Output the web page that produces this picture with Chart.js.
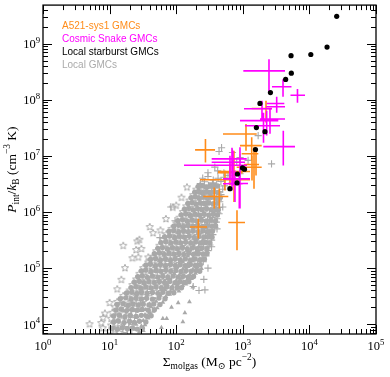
<!DOCTYPE html>
<html>
<head>
<meta charset="utf-8">
<script src="https://cdn.jsdelivr.net/npm/chart.js@4.4.1/dist/chart.umd.min.js"></script>
<style>
  html, body { margin: 0; padding: 0; background: #fff; }
  canvas { display: block; }
</style>
</head>
<body>
<canvas id="chart" width="390" height="377"></canvas>
<script>
// --- DATOS ---
// Sigma_molgas en M_sun pc^-2, P_int/k_B en cm^-3 K

// Local starburst GMCs (puntos negros)
const starburstSigma = [25700, 18400, 10500, 5300, 5350, 4400, 2600, 1810, 1600, 2150, 1550, 990, 1060, 830, 820, 640];
const starburstP     = [3.07e9, 8.7e8, 6.4e8, 6.1e8, 2.98e8, 2.3e8, 1.34e8, 8.6e7, 3.2e7, 2.7e7, 1.3e7, 6.1e6, 5.8e6, 4.75e6, 3.3e6, 2.6e6];

// Cosmic Snake GMCs (cruces magenta)
const snakeSigma   = [688, 712, 642, 907, 763, 886, 4055, 2284, 2560, 3228, 3228, 6622, 4017, 2473, 2046, 1941];
const snakeSigmaLo = [131, 341, 341, 504, 504, 600, 2032, 907, 1812, 2284, 2230, 5200, 2743, 1018, 1079, 1042];
const snakeSigmaHi = [1157, 1145, 1079, 1283, 996, 1197, 6078, 3413, 4305, 4198, 4305, 8590, 5383, 4305, 3620, 2743];
const snakeP       = [6.8e6, 8.85e6, 7.7e6, 3.9e6, 3.18e6, 3.22e6, 1.46e7, 4.24e7, 4.54e7, 8.6e7, 7.5e7, 1.2e8, 1.7e8, 3.27e8, 3.45e7, 6.9e7];
const snakePLo     = [2.42e6, 2.97e6, 3.64e6, 1.15e6, 1.5e6, 1.15e6, 6.73e6, 2.3e7, 2.49e7, 6.38e7, 5.88e7, 8.85e7, 1.13e8, 1.35e8, 1.72e7, 4.6e7];
const snakePHi     = [1.4e7, 1.24e7, 1.01e7, 1.42e7, 5.49e6, 4.47e6, 2.81e7, 6.38e7, 6.9e7, 1.13e8, 9.6e7, 1.55e8, 2.31e8, 5.28e8, 5.88e7, 9.6e7];

// A521-sys1 GMCs (cruces naranjas)
const a521Sigma   = [2230, 1117, 1360, 1473, 275, 1374, 540, 642, 373, 444, 215, 818, 737, 1579];
const a521SigmaLo = [1360, 504, 907, 962, 192, 810, 228, 424, 255, 280, 161, 606, 424, 1042];
const a521SigmaHi = [2716, 1617, 1922, 1710, 383, 1922, 1283, 996, 606, 600, 290, 1079, 1283, 1750];
const a521P       = [7.0e7, 2.46e7, 1.52e7, 1.09e7, 1.28e7, 6.28e6, 3.75e6, 4.99e6, 1.89e6, 1.89e6, 5.4e5, 6.5e5, 5.26e6, 7.0e6];
const a521PLo     = [3.95e7, 1.24e7, 8.26e6, 2.59e6, 7.6e6, 3.64e6, 2.42e6, 2.97e6, 1.16e6, 1.16e6, 3.36e5, 2.08e5, 1.5e6, 4.47e6];
const a521PHi     = [9.6e7, 3.7e7, 2.14e7, 1.42e7, 2.0e7, 1.01e7, 5.49e6, 7.3e6, 2.73e6, 2.63e6, 7.6e5, 1.07e6, 1.24e7, 1.24e7];

// Local GMCs (gris), por tipo de marcador: [Sigma, P]
const localStars = [
  [10,7.4e3],[12,8.0e3],[14,7.0e3],[7.9,8.5e3],
  [10.5,9.5e3],[12.5,1.02e4],[15,8.9e3],[5,1.0e4],[7.5,1.05e4],
  [10.5,1.25e4],[12.5,1.33e4],[15,1.17e4],[8,1.3e4],
  [11,1.6e4],[13,1.72e4],[16,1.5e4],[8.5,1.55e4],
  [12,2.0e4],[14,2.15e4],[17,1.87e4],[20,2.08e4],
  [13,2.5e4],[15.5,2.7e4],[19,2.33e4],[23,2.6e4],[10,2.4e4],
  [16,3.2e4],[19,3.45e4],[23,2.98e4],[27,3.33e4],
  [20,4.0e4],[24,4.3e4],[28,3.7e4],[34,4.15e4],[13,4.2e4],
  [22,5.0e4],[26,5.4e4],[31,4.65e4],[37,5.2e4],
  [25,6.3e4],[30,6.8e4],[35,5.85e4],[42,6.55e4],[15,6.2e4],
  [28,7.9e4],[33,8.5e4],[39,7.35e4],[47,8.2e4],
  [32,1.0e5],[38,1.08e5],[45,9.3e4],[53,1.04e5],[17,1.0e5],
  [38,1.26e5],[45,1.36e5],[53,1.17e5],[63,1.31e5],
  [45,1.6e5],[53,1.73e5],[63,1.49e5],[75,1.66e5],[22,1.5e5],
  [50,2.0e5],[59,2.16e5],[70,1.86e5],[83,2.08e5],
  [56,2.5e5],[66,2.7e5],[78,2.33e5],[93,2.6e5],[16,2.5e5],[26,3.0e5],
  [63,3.2e5],[75,3.45e5],[89,2.98e5],[105,3.33e5],
  [71,4.0e5],[84,4.3e5],[100,3.72e5],[118,4.15e5],[45,4.2e5],
  [85,5.0e5],[100,5.4e5],[118,4.65e5],[140,5.2e5],[58,4.7e5],
  [100,6.3e5],[118,6.8e5],[139,5.85e5],[164,6.55e5],
  [112,7.9e5],[132,8.5e5],[155,7.35e5],[182,8.2e5],[70,7.5e5],
  [126,1.0e6],[147,1.08e6],[172,9.3e5],[200,1.04e6],[89,1.2e6],
  [141,1.26e6],[164,1.36e6],[190,1.17e6],[100,1.3e6],
  [158,1.6e6],[182,1.73e6],[210,1.49e6],[120,1.8e6],
  [180,2.0e6],[206,2.16e6],[145,2.75e6],
  [200,2.5e6],[228,2.7e6],
  [28,3.2e5],[40,5.4e5],[25,2.1e5],[30,2.2e5],[27,1.55e5],[38,1.55e5]
];
const localSquares = [
  [17,7.8e3],[20,7.2e3],[18,9.9e3],[21,9.1e3],[18,1.3e4],[22,1.2e4],
  [19,1.66e4],[23,1.54e4],[24,1.93e4],[29,2.2e4],[27,2.4e4],[33,2.75e4],
  [33,3.07e4],[40,3.5e4],[40,3.85e4],[48,4.4e4],[57,3.65e4],
  [44,4.8e4],[52,5.5e4],[62,4.55e4],[50,6.05e4],[60,6.9e4],[70,5.75e4],
  [56,7.6e4],[66,8.7e4],[79,7.2e4],[63,9.6e4],[75,1.1e5],[89,9.1e4],
  [75,1.21e5],[89,1.39e5],[106,1.15e5],[89,1.54e5],[106,1.76e5],[126,1.46e5],
  [99,1.92e5],[118,2.2e5],[140,1.82e5],[110,2.4e5],[130,2.75e5],[155,2.28e5],
  [125,3.07e5],[148,3.5e5],[176,2.92e5],[140,3.85e5],[166,4.4e5],[197,3.65e5],
  [165,4.8e5],[195,5.5e5],[230,4.55e5],[193,6.05e5],[228,6.9e5],
  [214,7.6e5],[252,8.7e5],[233,9.6e5],[272,1.1e6],[220,1.31e6],[256,1.21e6],
  [242,1.66e6],[236,1.86e6]
];
const localTriangles = [
  [24,8.1e3],[28,7.3e3],[32,7.7e3],[60,8.7e3],
  [25,1.0e4],[30,9.3e3],[34,9.8e3],[126,1.1e4],
  [26,1.35e4],[32,1.16e4],[38,1.28e4],[72,1.26e4],
  [28,1.75e4],[34,1.48e4],[40,1.62e4],[45,1.7e4],
  [35,1.83e4],[42,2.04e4],[52,1.95e4],[85,2.0e4],
  [40,2.28e4],[50,2.55e4],[63,2.45e4],[158,2.5e4],
  [58,3.26e4],[70,3.1e4],[80,3.4e4],
  [68,4.1e4],[82,3.85e4],[100,4.2e4],[110,3.9e4],
  [74,5.1e4],[88,4.8e4],[105,5.3e4],[125,4.9e4],[140,5.2e4],
  [100,6.0e4],[120,6.6e4],[145,6.2e4],[170,6.5e4],
  [94,8.0e4],[112,7.6e4],[135,8.4e4],[160,7.7e4],[195,8.1e4],
  [126,9.7e4],[150,1.06e5],[178,9.5e4],[210,1.03e5],[240,9.8e4],
  [126,1.28e5],[150,1.2e5],[178,1.33e5],
  [150,1.63e5],[178,1.52e5],[210,1.7e5],
  [197,1.94e5],[234,2.12e5],[184,2.55e5],[218,2.42e5],[208,3.26e5],[247,3.1e5],
  [63,1.26e4],[107,2.4e4],[135,1.6e4],[178,4.6e4]
];
const localDots = [
  [48,2.9e4],[84,6.4e4],[106,1.02e5],[166,2.04e5],[233,4.1e5],[30,8.5e3],[20,1.8e4],[60,4.6e4]
];
// nubes densas del núcleo (filas intermedias)
const localCore = [
  [11,8.5e3],[13,8.2e3],[15.5,8.7e3],[18.5,8.3e3],[22,8.6e3],[26,8.2e3],[31,8.5e3],
  [11.5,1.1e4],[13.5,1.14e4],[16.5,1.07e4],[20,1.12e4],[23.5,1.08e4],[28,1.13e4],[35,1.1e4],
  [11.5,1.4e4],[14,1.45e4],[17,1.36e4],[20.5,1.43e4],[25,1.38e4],[30,1.44e4],[36,1.39e4],[42,1.42e4],
  [12.5,1.8e4],[15,1.85e4],[18,1.75e4],[22,1.83e4],[26,1.77e4],[31,1.84e4],[38,1.78e4],[47,1.82e4],
  [13,2.25e4],[16,2.32e4],[19,2.18e4],[22.5,2.3e4],[27,2.2e4],[32,2.28e4],[39,2.21e4],[46,2.3e4],[57,2.24e4],
  [14.5,2.85e4],[17.5,2.95e4],[21,2.78e4],[25,2.92e4],[30,2.8e4],[36,2.9e4],[44,2.8e4],[55,2.93e4],[68,2.84e4],
  [18,3.6e4],[21.5,3.72e4],[25.5,3.5e4],[30,3.68e4],[36.5,3.52e4],[44,3.66e4],[53,3.55e4],[63,3.7e4],[76,3.56e4],[92,3.65e4],
  [21,4.5e4],[25,4.65e4],[29.5,4.4e4],[35,4.6e4],[42,4.42e4],[50,4.6e4],[60,4.45e4],[72,4.62e4],[86,4.44e4],[104,4.58e4],[120,4.48e4],
  [23.5,5.6e4],[28,5.8e4],[33,5.5e4],[39,5.75e4],[47,5.52e4],[56,5.72e4],[67,5.55e4],[80,5.78e4],[96,5.5e4],[114,5.7e4],[132,5.56e4],[155,5.74e4],
  [26.5,7.0e4],[31,7.25e4],[37,6.85e4],[44,7.2e4],[53,6.9e4],[63,7.15e4],[75,6.88e4],[90,7.2e4],[107,6.9e4],[128,7.15e4],[152,6.95e4],[182,7.1e4],
  [30,8.9e4],[35,9.2e4],[42,8.7e4],[50,9.1e4],[59,8.75e4],[70,9.15e4],[83,8.8e4],[99,9.1e4],[118,8.7e4],[141,9.05e4],[168,8.8e4],[200,9.1e4],[225,8.8e4],
  [35,1.13e5],[41,1.17e5],[49,1.1e5],[58,1.16e5],[69,1.1e5],[82,1.16e5],[97,1.11e5],[115,1.15e5],[137,1.1e5],[163,1.16e5],[193,1.11e5],[230,1.15e5],
  [41,1.42e5],[49,1.47e5],[58,1.39e5],[69,1.46e5],[82,1.39e5],[97,1.45e5],[115,1.4e5],[137,1.46e5],[163,1.39e5],[193,1.45e5],[228,1.4e5],[265,1.44e5],
  [47,1.8e5],[56,1.86e5],[66,1.76e5],[78,1.84e5],[93,1.77e5],[110,1.83e5],[130,1.76e5],[154,1.84e5],[182,1.77e5],[216,1.83e5],[255,1.78e5],[290,1.82e5],
  [53,2.25e5],[62,2.32e5],[74,2.2e5],[88,2.3e5],[104,2.21e5],[124,2.3e5],[147,2.2e5],[175,2.29e5],[207,2.21e5],[245,2.28e5],[290,2.22e5],
  [59,2.85e5],[70,2.95e5],[83,2.8e5],[99,2.92e5],[117,2.8e5],[139,2.9e5],[165,2.81e5],[196,2.92e5],[232,2.8e5],[275,2.9e5],[320,2.82e5],
  [67,3.6e5],[80,3.72e5],[95,3.52e5],[112,3.68e5],[133,3.54e5],[157,3.68e5],[186,3.53e5],[220,3.67e5],[260,3.55e5],[305,3.66e5],[345,3.56e5],
  [78,4.5e5],[92,4.65e5],[109,4.42e5],[129,4.6e5],[152,4.43e5],[180,4.6e5],[213,4.44e5],[252,4.58e5],[296,4.45e5],[350,4.56e5],
  [92,5.6e5],[109,5.8e5],[128,5.5e5],[151,5.75e5],[178,5.52e5],[210,5.73e5],[248,5.53e5],[292,5.72e5],[345,5.55e5],[390,5.7e5],
  [106,7.0e5],[125,7.25e5],[147,6.85e5],[173,7.2e5],[203,6.88e5],[240,7.15e5],[282,6.9e5],[330,7.15e5],[390,6.9e5],
  [119,8.9e5],[140,9.2e5],[164,8.7e5],[192,9.1e5],[225,8.75e5],[263,9.1e5],[308,8.8e5],[360,9.1e5],[415,8.8e5],
  [133,1.12e6],[155,1.16e6],[181,1.09e6],[210,1.15e6],[245,1.1e6],[285,1.15e6],[332,1.1e6],[385,1.14e6],[430,1.1e6],
  [150,1.42e6],[173,1.47e6],[200,1.38e6],[231,1.45e6],[268,1.39e6],[310,1.45e6],[360,1.4e6],[415,1.44e6],
  [168,1.8e6],[194,1.86e6],[223,1.75e6],[256,1.84e6],[295,1.76e6],[340,1.83e6],[390,1.77e6],[460,1.82e6],
  [190,2.25e6],[217,2.32e6],[248,2.2e6],[284,2.3e6],[325,2.21e6],[372,2.28e6],[425,2.22e6],
  [215,2.85e6],[246,2.95e6],[282,2.8e6],[322,2.92e6],[370,2.82e6],[420,2.9e6]
];
const localCrosses = [
  [220,4.0e4],[180,4.7e4],[260,6.3e4],[270,4.1e4],[300,1.0e5],[210,1.22e5],[255,1.3e5],
  [245,1.56e5],[280,1.65e5],[280,1.9e5],[300,2.05e5],
  [258,2.65e5],[300,2.45e5],[320,2.58e5],[340,2.4e5],[293,3.38e5],[340,3.15e5],
  [276,3.9e5],[320,4.2e5],[355,3.95e5],[272,5.1e5],[320,4.8e5],[380,5.3e5],[410,5.0e5],
  [268,5.75e5],[316,6.4e5],[370,6.0e5],[400,6.6e5],[296,7.2e5],[348,8.0e5],[410,7.6e5],
  [318,9.1e5],[370,1.02e6],[420,9.7e5],[440,9.3e5],
  [297,1.39e6],[345,1.15e6],[400,1.28e6],[440,1.2e6],[500,1.23e6],
  [280,1.54e6],[323,1.76e6],[373,1.46e6],[430,1.63e6],[450,1.52e6],
  [270,2.08e6],[310,1.92e6],[355,2.2e6],[406,1.82e6],[470,2.04e6],
  [260,2.33e6],[297,2.6e6],[340,2.4e6],[390,2.75e6],[445,2.28e6],[500,2.55e6],
  [230,3.2e6],[265,3.45e6],[305,2.98e6],[350,3.33e6],[405,3.07e6],[470,3.5e6],[530,2.92e6],[229,2.95e6],[355,3.2e6],
  [250,4.0e6],[300,4.3e6],[360,3.72e6],[425,4.0e6],[520,4.15e6],[600,4.5e6],[910,4.8e6],
  [300,5.0e6],[420,5.4e6],[520,5.0e6],[380,6.3e6],[810,7.8e6],[1200,8.3e6],[2700,7.2e6],
  [910,9.3e6],[480,1.4e7],[440,1.2e7],[700,1.15e7],[1700,2.3e7],
  [83,1.23e6],[57,3.5e5],[68,3.5e5],[96,7e5]
];

// Etiquetas
const legendLabels = ['A521-sys1 GMCs', 'Cosmic Snake GMCs', 'Local starburst GMCs', 'Local GMCs'];
const xTickExps = [0, 1, 2, 3, 4, 5];
const yTickExps = [4, 5, 6, 7, 8, 9];

// --- ESTILO ---
const GRAY = '#a9a9a9';
const ORANGE = '#ff8c1a';
const MAGENTA = '#ff00ff';
const legendColors = [ORANGE, MAGENTA, '#000000', '#aaaaaa'];
const SERIF = '"Liberation Serif", "DejaVu Serif", serif';
const SANS = '"Liberation Sans", "DejaVu Sans", sans-serif';

// Estrella de 5 puntas (contorno) como pointStyle
function starImage(r) {
    const c = document.createElement('canvas');
    const s = Math.ceil(r * 2 + 2);
    c.width = s; c.height = s;
    const g = c.getContext('2d');
    g.strokeStyle = GRAY;
    g.lineWidth = 1;
    g.beginPath();
    for (let i = 0; i < 10; i++) {
        const a = -Math.PI / 2 + i * Math.PI / 5;
        const rr = i % 2 ? r * 0.45 : r;
        g.lineTo(s / 2 + rr * Math.cos(a), s / 2 + rr * Math.sin(a));
    }
    g.closePath();
    g.stroke();
    return c;
}

const pairs = arr => arr.map(p => ({ x: p[0], y: p[1] }));
const zip = (xs, ys) => xs.map((x, i) => ({ x: x, y: ys[i] }));

// Barras de error (cruces) dibujadas con las escalas del gráfico
const errorBars = {
    id: 'errorBars',
    afterDatasetDraw(chart, args) {
        const ds = chart.data.datasets[args.index];
        if (!ds.bars) return;
        const { ctx, chartArea: a, scales: { x, y } } = chart;
        const b = ds.bars;
        ctx.save();
        ctx.beginPath();
        ctx.rect(a.left, a.top, a.right - a.left, a.bottom - a.top);
        ctx.clip();
        ctx.strokeStyle = ds.barColor;
        ctx.lineWidth = 1.6;
        ctx.beginPath();
        for (let i = 0; i < b.x.length; i++) {
            const px = x.getPixelForValue(b.x[i]);
            const py = y.getPixelForValue(b.y[i]);
            ctx.moveTo(x.getPixelForValue(b.xLo[i]), py);
            ctx.lineTo(x.getPixelForValue(b.xHi[i]), py);
            ctx.moveTo(px, y.getPixelForValue(b.yLo[i]));
            ctx.lineTo(px, y.getPixelForValue(b.yHi[i]));
        }
        ctx.stroke();
        ctx.restore();
    }
};

// Texto con subíndices / superíndices
function richWidth(ctx, parts, size) {
    let w = 0;
    for (const p of parts) {
        ctx.font = (p.i ? 'italic ' : '') + (size * (p.s || 1)) + 'px ' + SERIF;
        w += ctx.measureText(p.t).width;
    }
    return w;
}
function drawRich(ctx, parts, x, y, size) {
    let cx = x;
    for (const p of parts) {
        ctx.font = (p.i ? 'italic ' : '') + (size * (p.s || 1)) + 'px ' + SERIF;
        ctx.fillText(p.t, cx, y + (p.dy || 0) * size);
        cx += ctx.measureText(p.t).width;
    }
}
function powParts(e) {
    return [{ t: '10' }, { t: String(e), s: 0.7, dy: -0.42 }];
}

const axesDecor = {
    id: 'axesDecor',
    afterDraw(chart) {
        const { ctx, chartArea: a, scales: { x, y } } = chart;
        ctx.save();
        ctx.strokeStyle = '#000';
        ctx.lineWidth = 1;
        ctx.beginPath();
        // ticks hacia dentro en los cuatro lados
        for (let k = 0; k <= 5; k++) {
            for (let m = 1; m < 10; m++) {
                const v = m * Math.pow(10, k);
                if (v > 1e5) break;
                const px = Math.round(x.getPixelForValue(v)) + 0.5;
                const len = m === 1 ? 9 : 5;
                ctx.moveTo(px, a.bottom); ctx.lineTo(px, a.bottom - len);
                ctx.moveTo(px, a.top); ctx.lineTo(px, a.top + len);
            }
        }
        for (let k = 3; k <= 9; k++) {
            for (let m = 1; m < 10; m++) {
                const v = m * Math.pow(10, k);
                if (v < y.min || v > y.max) continue;
                const py = Math.round(y.getPixelForValue(v)) + 0.5;
                const len = m === 1 ? 9 : 5;
                ctx.moveTo(a.left, py); ctx.lineTo(a.left + len, py);
                ctx.moveTo(a.right, py); ctx.lineTo(a.right - len, py);
            }
        }
        ctx.stroke();
        ctx.lineWidth = 1.3;
        ctx.strokeRect(a.left, a.top, a.right - a.left, a.bottom - a.top);

        // etiquetas de los ejes
        ctx.fillStyle = '#000';
        ctx.textBaseline = 'alphabetic';
        ctx.textAlign = 'left';
        const fs = 12.5;
        xTickExps.forEach(e => {
            const parts = powParts(e);
            const w = richWidth(ctx, parts, fs);
            drawRich(ctx, parts, x.getPixelForValue(Math.pow(10, e)) - w / 2, 350, fs);
        });
        yTickExps.forEach(e => {
            const parts = powParts(e);
            const w = richWidth(ctx, parts, fs);
            drawRich(ctx, parts, a.left - 3 - w, y.getPixelForValue(Math.pow(10, e)) + 4.3, fs);
        });

        // títulos
        const ts = 13.5;
        const xt = [{ t: 'Σ' }, { t: 'molgas', s: 0.7, dy: 0.22 }, { t: ' (M' }, { t: '⊙', s: 0.7, dy: 0.22 },
                    { t: ' pc' }, { t: '−2', s: 0.7, dy: -0.42 }, { t: ')' }];
        const xw = richWidth(ctx, xt, ts);
        drawRich(ctx, xt, (a.left + a.right) / 2 - xw / 2, 366, ts);

        const yt = [{ t: 'P', i: 1 }, { t: 'int', s: 0.7, dy: 0.22 }, { t: '/' }, { t: 'k', i: 1 },
                    { t: 'B', s: 0.7, dy: 0.22 }, { t: ' (cm' }, { t: '−3', s: 0.7, dy: -0.42 }, { t: ' K)' }];
        const yw = richWidth(ctx, yt, ts);
        ctx.save();
        ctx.translate(16, (a.top + a.bottom) / 2);
        ctx.rotate(-Math.PI / 2);
        drawRich(ctx, yt, -yw / 2, 0, ts);
        ctx.restore();

        // leyenda (solo texto coloreado)
        ctx.font = '10px ' + SANS;
        legendLabels.forEach((t, i) => {
            ctx.fillStyle = legendColors[i];
            ctx.fillText(t, 62, 28.5 + i * 13);
        });
        ctx.restore();
    }
};

const grayBase = { borderColor: GRAY, backgroundColor: GRAY, clip: 0 };

new Chart(document.getElementById('chart'), {
    type: 'scatter',
    data: {
        datasets: [
            { label: 'Local starburst GMCs', data: zip(starburstSigma, starburstP), pointStyle: 'circle',
              pointRadius: 2.6, backgroundColor: '#000', borderColor: '#000', borderWidth: 0, clip: 0 },
            { label: 'Cosmic Snake GMCs', data: zip(snakeSigma, snakeP), pointRadius: 0, clip: 0,
              barColor: MAGENTA,
              bars: { x: snakeSigma, y: snakeP, xLo: snakeSigmaLo, xHi: snakeSigmaHi, yLo: snakePLo, yHi: snakePHi } },
            { label: 'A521-sys1 GMCs', data: zip(a521Sigma, a521P), pointRadius: 0, clip: 0,
              barColor: ORANGE,
              bars: { x: a521Sigma, y: a521P, xLo: a521SigmaLo, xHi: a521SigmaHi, yLo: a521PLo, yHi: a521PHi } },
            Object.assign({ label: 'Local GMCs +', data: pairs(localCrosses), pointStyle: 'cross', pointRadius: 3.6, borderWidth: 1.1 }, grayBase),
            Object.assign({ label: 'Local GMCs *', data: pairs(localStars), pointStyle: starImage(3.8) }, grayBase),
            Object.assign({ label: 'Local GMCs sq', data: pairs(localSquares), pointStyle: 'rect', pointRadius: 3, borderWidth: 1 },
                          grayBase, { backgroundColor: 'rgba(0,0,0,0)' }),
            Object.assign({ label: 'Local GMCs tri', data: pairs(localTriangles), pointStyle: 'triangle', pointRadius: 2.8, borderWidth: 0 }, grayBase),
            Object.assign({ label: 'Local GMCs dot', data: pairs(localDots), pointStyle: 'circle', pointRadius: 1.3, borderWidth: 0 }, grayBase),
            Object.assign({ label: 'Local GMCs core', data: pairs(localCore), pointStyle: 'circle', pointRadius: 2.7, borderWidth: 0 }, grayBase)
        ]
    },
    options: {
        responsive: false,
        animation: false,
        devicePixelRatio: 1,
        events: [],
        layout: { padding: { left: 43, right: 14, top: 4, bottom: 43 } },
        plugins: { legend: { display: false }, tooltip: { enabled: false } },
        scales: {
            x: { type: 'logarithmic', min: 1, max: 1e5, display: false },
            y: { type: 'logarithmic', min: 6700, max: 4.86e9, display: false }
        }
    },
    plugins: [errorBars, axesDecor]
});
</script>
</body>
</html>
